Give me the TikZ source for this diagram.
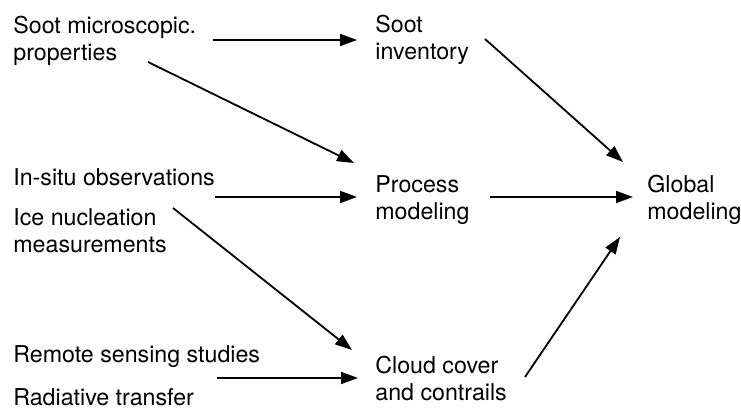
\documentclass[tikz,border=0pt]{standalone}
\usepackage{fontspec}
\setmainfont{TeX Gyre Heros}
\usepackage{tikz}
\usetikzlibrary{arrows.meta}

\begin{document}
\begin{tikzpicture}[x=0.5pt,y=-0.5pt,
    txt/.style={anchor=north west, inner sep=0pt, align=left,
        font=\fontsize{11.6}{13.5}\selectfont},
    flow/.style={line width=0.9pt, -{Triangle[length=8.5pt,width=6pt]}}]
    \useasboundingbox (0,0) rectangle (741,410);

    % left column
    \node[txt] (micro) at (13,16) {Soot microscopic.\\properties};
    \node[txt] (insitu) at (13,168) {In-situ observations};
    \node[txt] (ice) at (13,208) {Ice nucleation\\measurements};
    \node[txt] (remote) at (13,345) {Remote sensing studies};
    \node[txt] (radiative) at (13,388) {Radiative transfer};

    % middle column
    \node[txt] (inventory) at (375,15) {Soot\\inventory};
    \node[txt] (process) at (375,175) {Process\\modeling};
    \node[txt] (cloud) at (375,356) {Cloud cover\\and contrails};

    % right column
    \node[txt] (global) at (647,175) {Global\\modeling};

    \draw[flow] ([shift={(200,24)}]micro.north west) -- ([shift={(-18,25)}]inventory.north west); % top row
    \draw[flow] ([shift={(135,46)}]micro.north west) -- ([shift={(-21,-12)}]process.north west);
    \draw[flow] ([shift={(110,24)}]inventory.north west) -- ([shift={(-24,-13)}]global.north west);
    \draw[flow] ([shift={(202,29)}]insitu.north west) -- ([shift={(-18,22)}]process.north west); % middle row
    \draw[flow] ([shift={(115,22)}]process.north west) -- ([shift={(-14,22)}]global.north west);
    \draw[flow] ([shift={(160,0)}]ice.north west) -- ([shift={(-23,-6)}]cloud.north west);
    \draw[flow] ([shift={(204,-10)}]radiative.north west) -- ([shift={(-17,22)}]cloud.north west); % bottom row
    \draw[flow] ([shift={(150,21)}]cloud.north west) -- ([shift={(-27,62)}]global.north west);

\end{tikzpicture}
\end{document}
